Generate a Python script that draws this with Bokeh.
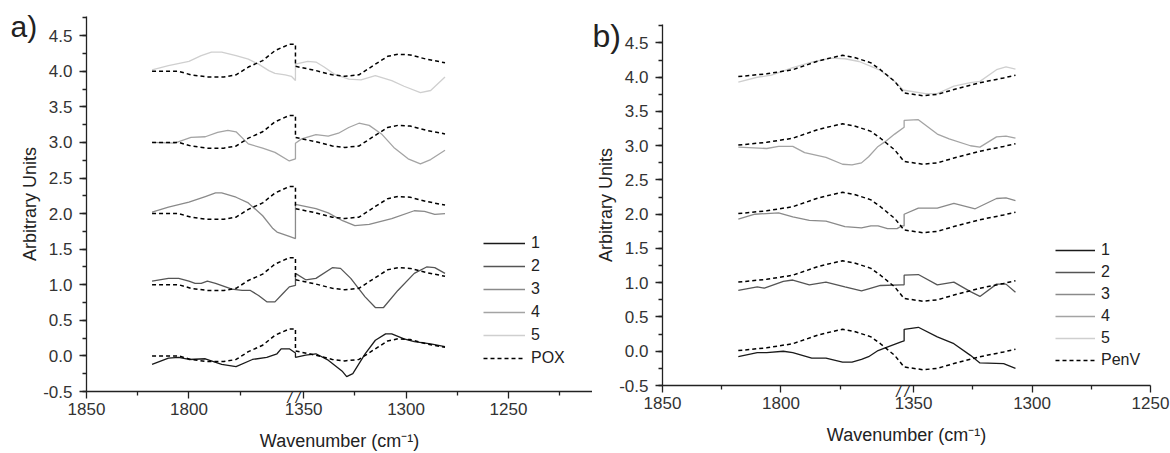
from bokeh.plotting import figure
from bokeh.models import (Range1d, FixedTicker, SingleIntervalTicker, PrintfTickFormatter,
                          Legend, LegendItem, Title, LinearAxis)
from bokeh.layouts import row, column
from bokeh.embed import file_html
from bokeh.resources import INLINE

# ---------------- data: panel a (POX) ----------------
A1_WN = [1818, 1810, 1805, 1800, 1792, 1784, 1777, 1769, 1762, 1757, 1755, 1751, 1748,
         1354, 1349, 1344, 1338, 1331, 1329, 1326, 1320, 1315, 1310, 1307, 1301, 1296, 1288, 1281]
A1_VAL = [-0.12, -0.03, -0.02, -0.05, -0.04, -0.12, -0.15, -0.05, -0.02, 0.03, 0.10, 0.10, 0.04,
          -0.02, 0.01, 0.03, -0.06, -0.22, -0.29, -0.25, 0.03, 0.22, 0.31, 0.31, 0.24, 0.20, 0.17, 0.13]
A2_WN = [1818, 1810, 1805, 1800, 1797, 1794, 1791, 1787, 1779, 1774, 1770, 1766, 1762, 1758, 1754, 1751, 1748,
         1354, 1349, 1344, 1336, 1332, 1327, 1320, 1315, 1311, 1304, 1296, 1290, 1286, 1281]
A2_VAL = [1.05, 1.09, 1.09, 1.05, 1.02, 1.02, 1.05, 1.02, 0.94, 0.92, 0.92, 0.85, 0.76, 0.76, 0.88, 0.97, 0.99,
          1.16, 1.07, 1.09, 1.24, 1.23, 1.09, 0.83, 0.68, 0.68, 0.92, 1.16, 1.25, 1.24, 1.16]
A3_WN = [1818, 1810, 1800, 1792, 1787, 1784, 1777, 1771, 1764, 1759, 1757, 1751, 1748,
         1354, 1344, 1338, 1331, 1325, 1318, 1307, 1296, 1291, 1286, 1281]
A3_VAL = [2.02, 2.09, 2.16, 2.24, 2.29, 2.29, 2.23, 2.15, 1.97, 1.79, 1.74, 1.68, 1.65,
          2.13, 2.07, 2.01, 1.90, 1.83, 1.85, 1.93, 2.04, 2.03, 1.99, 2.00]
A4_WN = [1818, 1807, 1799, 1792, 1786, 1781, 1777, 1771, 1764, 1758, 1751, 1748,
         1354, 1351, 1344, 1338, 1333, 1328, 1323, 1318, 1312, 1306, 1299, 1293, 1288, 1281]
A4_VAL = [3.00, 2.99, 3.07, 3.08, 3.14, 3.17, 3.15, 2.98, 2.92, 2.86, 2.74, 2.77,
          2.99, 3.05, 3.11, 3.09, 3.13, 3.21, 3.27, 3.24, 3.12, 2.93, 2.77, 2.70, 2.76, 2.89]
A5_WN = [1818, 1810, 1800, 1794, 1789, 1784, 1777, 1771, 1766, 1761, 1758, 1753, 1750, 1748,
         1354, 1348, 1344, 1340, 1335, 1328, 1322, 1315, 1307, 1301, 1293, 1288, 1281]
A5_VAL = [4.02, 4.08, 4.14, 4.22, 4.27, 4.27, 4.22, 4.17, 4.10, 4.01, 3.97, 3.95, 3.93, 3.87,
          4.10, 4.14, 4.13, 4.06, 3.96, 3.89, 3.88, 3.94, 3.87, 3.79, 3.70, 3.73, 3.92]
POX_WN = [1818, 1805, 1799, 1791, 1783, 1777, 1771, 1764, 1758, 1751, 1748,
          1354, 1344, 1336, 1330, 1323, 1315, 1309, 1304, 1298, 1290, 1281]
POX_VAL = [0.00, 0.00, -0.05, -0.08, -0.08, -0.05, 0.06, 0.15, 0.29, 0.38, 0.38,
           0.07, 0.01, -0.05, -0.07, -0.05, 0.10, 0.21, 0.24, 0.23, 0.17, 0.12]

# ---------------- data: panel b (PenV) ----------------
B1_WN = [1818, 1810, 1806, 1799, 1795, 1787, 1781, 1774, 1770, 1766, 1763, 1759, 1756, 1749, 1748,
         1354, 1348, 1340, 1333, 1326, 1322, 1312, 1307]
B1_VAL = [-0.08, -0.02, -0.02, 0.00, -0.02, -0.10, -0.10, -0.16, -0.16, -0.12, -0.08, 0.01, 0.05, 0.14, 0.15,
          0.32, 0.35, 0.21, 0.11, -0.06, -0.17, -0.18, -0.25]
B2_WN = [1818, 1810, 1807, 1799, 1795, 1788, 1781, 1773, 1766, 1763, 1758, 1749, 1748,
         1354, 1348, 1340, 1333, 1326, 1322, 1315, 1311, 1307]
B2_VAL = [0.89, 0.94, 0.92, 1.02, 1.04, 0.97, 1.01, 0.94, 0.88, 0.91, 0.96, 0.97, 0.97,
          1.11, 1.12, 0.97, 1.01, 0.87, 0.80, 0.98, 0.98, 0.86]
B3_WN = [1818, 1811, 1801, 1795, 1788, 1781, 1773, 1766, 1762, 1759, 1755, 1751, 1749, 1748,
         1354, 1348, 1340, 1333, 1324, 1315, 1311, 1307]
B3_VAL = [1.93, 2.00, 2.02, 1.96, 1.91, 1.90, 1.82, 1.80, 1.83, 1.83, 1.79, 1.79, 1.83, 1.83,
          2.00, 2.09, 2.09, 2.16, 2.08, 2.23, 2.24, 2.20]
B4_WN = [1818, 1806, 1801, 1795, 1790, 1781, 1774, 1770, 1766, 1763, 1759, 1756, 1752, 1748,
         1354, 1348, 1340, 1335, 1326, 1322, 1315, 1311, 1307]
B4_VAL = [2.98, 2.96, 2.99, 2.99, 2.90, 2.83, 2.73, 2.72, 2.75, 2.84, 2.99, 3.06, 3.17, 3.27,
          3.37, 3.38, 3.17, 3.10, 3.00, 2.98, 3.13, 3.14, 3.11]
B5_WN = [1818, 1810, 1804, 1795, 1787, 1779, 1773, 1767, 1762, 1758, 1752, 1748,
         1354, 1345, 1340, 1333, 1326, 1322, 1315, 1311, 1307]
B5_VAL = [3.93, 4.00, 4.03, 4.14, 4.22, 4.28, 4.27, 4.23, 4.16, 4.10, 3.94, 3.80,
          3.81, 3.76, 3.76, 3.87, 3.92, 3.94, 4.11, 4.15, 4.12]
PENV_WN = [1818, 1806, 1795, 1784, 1778, 1774, 1769, 1762, 1758, 1752, 1748,
           1354, 1346, 1340, 1333, 1322, 1312, 1307]
PENV_VAL = [0.01, 0.05, 0.11, 0.24, 0.29, 0.32, 0.29, 0.21, 0.11, -0.06, -0.23,
            -0.23, -0.27, -0.25, -0.18, -0.08, -0.01, 0.03]

SERIES_LABELS = ["1", "2", "3", "4", "5"]
REF_OFFSETS = [0, 1, 2, 3, 4]
MAJOR_WN = [1850, 1800, 1350, 1300, 1250]
MINOR_WN = [1825, 1775, 1325, 1275, 1225]

# ---------------- broken wavenumber axis ----------------
AXIS_START = 1850
BREAK_HI = 1748   # last wavenumber shown before the break
BREAK_LO = 1354   # first wavenumber shown after the break
BREAK_POS = AXIS_START - BREAK_HI


def to_axis(w):
    if w >= (BREAK_HI + BREAK_LO) / 2:
        return AXIS_START - w
    return BREAK_POS + (BREAK_LO - w)


COLORS = ["#1a1a1a", "#555555", "#8a8a8a", "#a4a4a4", "#cfcfcf"]
FONT = "Liberation Sans"
INK = "#222222"


def make_panel(curves, ref_wn, ref_val, ref_name, tag, x_end_wn, width, height,
               b_left, b_right, b_top, b_bottom, legend_xy, spacing, glyph_w,
               tag_offset, tag_standoff, tag_size):
    x_end = to_axis(x_end_wn)
    tag_title = Title(text=tag, align="left", offset=tag_offset, vertical_align="bottom",
                      standoff=tag_standoff, text_font=FONT, text_font_size=tag_size,
                      text_font_style="normal", text_color=INK)
    p = figure(width=width, height=height, x_range=Range1d(0, x_end),
               y_range=Range1d(-0.5, 4.77), output_backend="svg", toolbar_location=None,
               x_axis_location=None, title=tag_title,
               min_border_left=b_left, min_border_right=b_right,
               min_border_top=b_top, min_border_bottom=b_bottom)
    p.outline_line_color = None
    p.xgrid.visible = False
    p.ygrid.visible = False
    p.background_fill_color = "white"
    p.border_fill_color = "white"

    items = []
    for (wn, val), lab, col in zip(curves, SERIES_LABELS, COLORS):
        r = p.line([to_axis(w) for w in wn], val, line_color=col, line_width=1.3)
        items.append(LegendItem(label=lab, renderers=[r]))
    ref_renderers = []
    for off in REF_OFFSETS:
        r = p.line([to_axis(w) for w in ref_wn], [v + off for v in ref_val],
                   line_color="black", line_width=1.5, line_dash="4 3")
        ref_renderers.append(r)
    items.append(LegendItem(label=ref_name, renderers=[ref_renderers[0]]))

    legend = Legend(items=items, location=legend_xy, glyph_width=glyph_w, glyph_height=20,
                    label_height=20, spacing=spacing, label_standoff=6, padding=0, margin=0,
                    border_line_alpha=0, background_fill_alpha=0,
                    label_text_font=FONT, label_text_font_size="16px", label_text_color=INK)
    p.add_layout(legend)

    # axis-break mark "//" sitting on the wavenumber axis (zero-height panel next to the frame)
    fw = width - b_left - b_right
    break_px = BREAK_POS * fw / x_end
    p.add_layout(Title(text="/ /", align="left", offset=break_px - 8, vertical_align="bottom",
                       standoff=-28, text_font=FONT, text_font_size="15px",
                       text_font_style="italic", text_color=INK), "below")

    xa = LinearAxis()
    p.add_layout(xa, "below")
    xa.ticker = FixedTicker(ticks=[to_axis(w) for w in MAJOR_WN],
                            minor_ticks=[to_axis(w) for w in MINOR_WN])
    xa.major_label_overrides = {to_axis(w): str(w) for w in MAJOR_WN}
    xa.axis_label = "Wavenumber (cm\u207b\u00b9)"
    ya = p.yaxis[0]
    ya.ticker = SingleIntervalTicker(interval=0.5, num_minor_ticks=2)
    ya.formatter = PrintfTickFormatter(format="%.1f")
    ya.axis_label = "Arbitrary Units"
    for ax in (xa, ya):
        ax.axis_line_color = INK
        ax.axis_line_width = 1.3
        ax.major_tick_line_color = INK
        ax.major_tick_line_width = 1.3
        ax.minor_tick_line_color = INK
        ax.minor_tick_line_width = 1.3
        ax.major_tick_in = 0
        ax.major_tick_out = 7
        ax.minor_tick_in = 0
        ax.minor_tick_out = 4
        ax.major_label_text_font = FONT
        ax.major_label_text_font_size = "17px"
        ax.major_label_text_color = "#333333"
        ax.axis_label_text_font = FONT
        ax.axis_label_text_font_size = "18px"
        ax.axis_label_text_font_style = "normal"
        ax.axis_label_text_color = INK
    xa.major_label_standoff = 4
    xa.axis_label_standoff = 13
    ya.major_label_standoff = 7
    ya.axis_label_standoff = 0
    return p


pa = make_panel([(A1_WN, A1_VAL), (A2_WN, A2_VAL), (A3_WN, A3_VAL), (A4_WN, A4_VAL), (A5_WN, A5_VAL)],
                POX_WN, POX_VAL, "POX", "a)", 1209, 592, 453, 86, 0, 16, 62,
                (397, 23), 3, 42, -76, -52.8, "30px")
pb = make_panel([(B1_WN, B1_VAL), (B2_WN, B2_VAL), (B3_WN, B3_VAL), (B4_WN, B4_VAL), (B5_WN, B5_VAL)],
                PENV_WN, PENV_VAL, "PenV", "b)", 1250, 578, 453, 70, 20, 24, 68,
                (393, 15), 2, 40, -70, -59, "32px")

layout = row(column(pa), column(pb))
open("out.html", "w").write(file_html(layout, INLINE))
